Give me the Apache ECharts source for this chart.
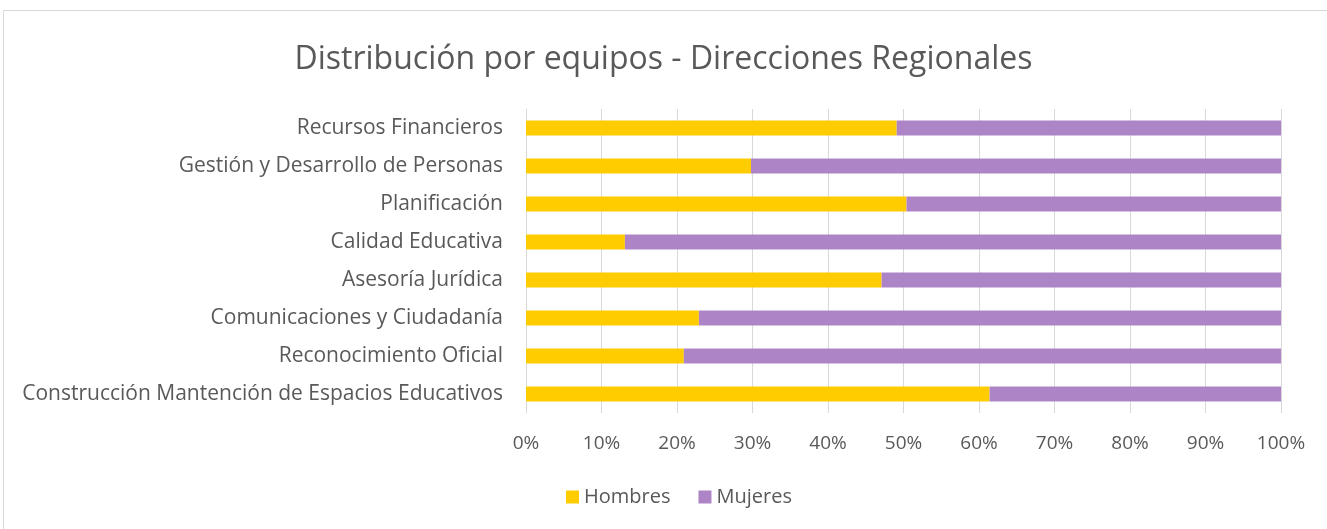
<!DOCTYPE html>
<html>
<head>
<meta charset="utf-8">
<script src="https://cdn.jsdelivr.net/npm/echarts@6/dist/echarts.min.js"></script>
<style>
  html, body { margin: 0; padding: 0; background: #fff; }
  #frame { position: absolute; left: 3px; top: 10px; width: 1330px; height: 530px; border: 1px solid #d9d9d9; box-sizing: border-box; }
  #chart { position: absolute; left: 0; top: 0; width: 1327px; height: 529px; }
</style>
</head>
<body>
<div id="frame"></div>
<div id="chart"></div>
<script>
// categories listed bottom to top (category axis runs upward)
const teams = [
  'Construcción Mantención de Espacios Educativos',
  'Reconocimiento Oficial',
  'Comunicaciones y Ciudadanía',
  'Asesoría Jurídica',
  'Calidad Educativa',
  'Planificación',
  'Gestión y Desarrollo de Personas',
  'Recursos Financieros'
]
// share of men (%) per team
const hombres = [61.4, 20.9, 22.9, 47.1, 13.1, 50.4, 29.8, 49.1]
const mujeres = hombres.map(v => +(100 - v).toFixed(1))
const xTicks = [0, 10, 20, 30, 40, 50, 60, 70, 80, 90, 100]

const font = '"Open Sans", sans-serif'
const textColor = '#595959'

const chart = echarts.init(document.getElementById('chart'))
chart.setOption({
  animation: false,
  title: {
    text: 'Distribución por equipos - Direcciones Regionales',
    left: 'center', top: 39,
    textStyle: { fontFamily: font, fontSize: 32, fontWeight: 'normal', color: textColor }
  },
  legend: {
    data: ['Hombres', 'Mujeres'],
    bottom: 17, left: 561,
    icon: 'rect', itemWidth: 13, itemHeight: 13, itemGap: 28,
    textStyle: { fontFamily: font, fontSize: 20, color: textColor }
  },
  grid: { left: 526, right: 46, top: 109, bottom: 116, containLabel: false },
  xAxis: {
    type: 'value', min: 0, max: 100, interval: 10,
    axisLine: { show: false },
    axisTick: { show: false },
    splitLine: { lineStyle: { color: '#d9d9d9', width: 1 } },
    axisLabel: {
      fontFamily: font, fontSize: 19, color: textColor, margin: 21,
      formatter: v => xTicks.includes(v) ? v + '%' : ''
    }
  },
  yAxis: {
    type: 'category', data: teams,
    axisLine: { show: true, lineStyle: { color: '#d9d9d9' } },
    axisTick: { show: false },
    axisLabel: { fontFamily: font, fontSize: 21, color: textColor, margin: 23 }
  },
  series: [
    {
      name: 'Hombres', type: 'bar', stack: 'total', data: hombres,
      barWidth: '40%', itemStyle: { color: '#ffcc00' }
    },
    {
      name: 'Mujeres', type: 'bar', stack: 'total', data: mujeres,
      barWidth: '40%', itemStyle: { color: '#ad85c6' }
    }
  ]
})
</script>
</body>
</html>
